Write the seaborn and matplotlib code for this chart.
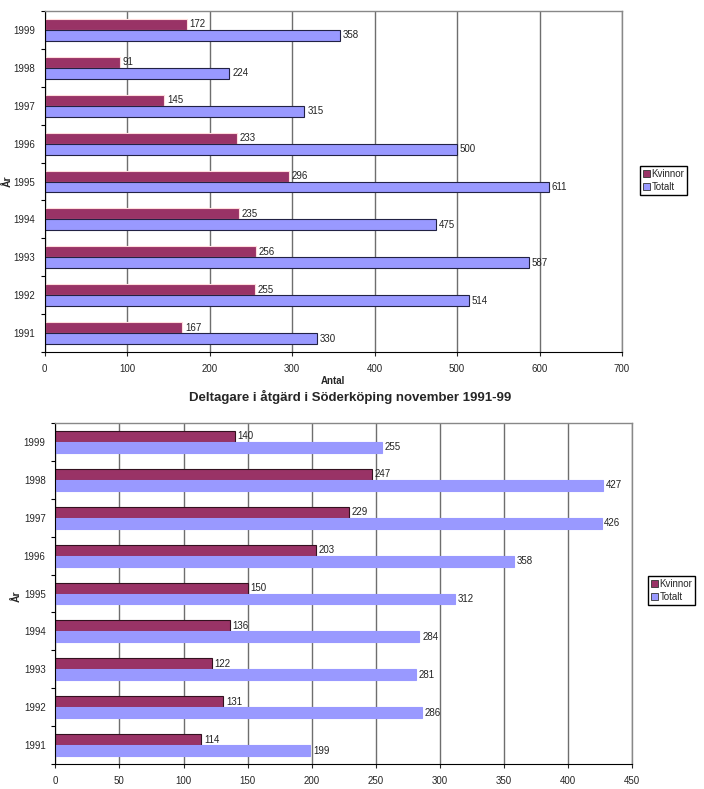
import matplotlib
matplotlib.use("Agg")
import matplotlib.pyplot as plt
from matplotlib.patches import Patch
import seaborn as sns
import pandas as pd
import numpy as np

# data
years = ["1999", "1998", "1997", "1996", "1995", "1994", "1993", "1992", "1991"]
kvinnor_top = [172, 91, 145, 233, 296, 235, 256, 255, 167]
totalt_top = [358, 224, 315, 500, 611, 475, 587, 514, 330]
kvinnor_bottom = [140, 247, 229, 203, 150, 136, 122, 131, 114]
totalt_bottom = [255, 427, 426, 358, 312, 284, 281, 286, 199]
series = ["Kvinnor", "Totalt"]
colors = ["#993366", "#9999FF"]

sns.set_style("white")
plt.rcParams["font.family"] = ["Liberation Sans", "DejaVu Sans"]

W, H = 704, 789
fig = plt.figure(figsize=(W / 100, H / 100), dpi=100)


def px_axes(left, top, right, bottom):
    return fig.add_axes([left / W, 1 - bottom / H, (right - left) / W, (bottom - top) / H])


def draw(ax, kvinnor, totalt, xmax, step, edges, legend_xy):
    df = pd.DataFrame({
        "År": years * 2,
        "Antal": kvinnor + totalt,
        "Serie": [series[0]] * len(years) + [series[1]] * len(years),
    })
    sns.barplot(data=df, y="År", x="Antal", hue="Serie", order=years,
                hue_order=series, palette=colors, saturation=1, width=0.58,
                orient="h", errorbar=None, legend=False, ax=ax)
    for cont, ec in zip(ax.containers, edges):
        for p in cont:
            p.set_edgecolor(ec)
            p.set_linewidth(0.8)
        ax.bar_label(cont, padding=2, fontsize=7, color="#222222")

    ax.set_xlim(0, xmax)
    ax.set_ylim(8.5, -0.5)
    ax.set_xticks(np.arange(0, xmax + 1, step))
    ax.set_yticks(np.arange(-0.5, 9, 1), minor=True)
    ax.tick_params(axis="y", which="major", length=0, labelsize=7, pad=7)
    ax.tick_params(axis="y", which="minor", length=3, width=0.8, color="black", left=True)
    ax.tick_params(axis="x", length=3, width=0.8, labelsize=7, pad=6, bottom=True)
    ax.xaxis.grid(True, color="#6e6e6e", lw=1)
    ax.set_axisbelow(True)
    ax.set_xlabel("")
    ax.set_ylabel("")
    for s in ["top", "right"]:
        ax.spines[s].set_color("#888888")
        ax.spines[s].set_linewidth(1)
    for s in ["left", "bottom"]:
        ax.spines[s].set_color("black")
        ax.spines[s].set_linewidth(0.8)

    handles = [Patch(facecolor=c, edgecolor="#333333", lw=0.6, label=l)
               for c, l in zip(colors, series)]
    ax.legend(handles=handles, loc="upper left",
              bbox_to_anchor=(legend_xy[0] / W, 1 - legend_xy[1] / H),
              bbox_transform=fig.transFigure, fontsize=7, frameon=True,
              fancybox=False, edgecolor="black", framealpha=1,
              handlelength=0.7, handleheight=0.7, handletextpad=0.2,
              borderpad=0.3, labelspacing=0.3, borderaxespad=0)


ax1 = px_axes(44.7, 11, 622, 352)
draw(ax1, kvinnor_top, totalt_top, 700, 100, ["#ffdddd", "#222244"], (640, 166))
fig.text(333 / W, 1 - 381 / H, "Antal", ha="center", va="center",
         fontsize=7, fontweight="bold")
fig.text(8 / W, 1 - 181 / H, "År", ha="center", va="center", rotation=90,
         fontsize=7.5, fontweight="bold")

fig.text(350 / W, 1 - 397 / H, "Deltagare i åtgärd i Söderköping november 1991-99",
         ha="center", va="center", fontsize=9.5, fontweight="bold")

ax2 = px_axes(55.3, 423, 632.3, 764)
draw(ax2, kvinnor_bottom, totalt_bottom, 450, 50, ["#33111f", "#9999FF"], (648, 576))
fig.text(17 / W, 1 - 596 / H, "År", ha="center", va="center", rotation=90,
         fontsize=7.5, fontweight="bold")

fig.savefig("out.png", dpi=100)
